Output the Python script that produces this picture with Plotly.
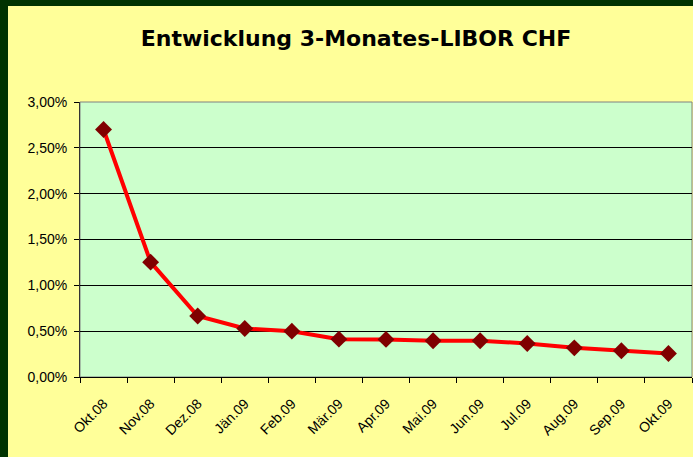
import plotly.graph_objects as go

months = ["Okt.08", "Nov.08", "Dez.08", "Jän.09", "Feb.09", "Mär.09", "Apr.09",
          "Mai.09", "Jun.09", "Jul.09", "Aug.09", "Sep.09", "Okt.09"]
libor = [0.0270, 0.01253, 0.00666, 0.00529, 0.00500, 0.00413, 0.00410,
         0.00395, 0.00395, 0.00366, 0.00318, 0.00286, 0.00257]
y_ticks = [0, 0.005, 0.01, 0.015, 0.02, 0.025, 0.03]

W, H = 693, 457
L, R, T, B = 80, 1, 102, 80
pw = W - L - R
ph = H - T - B

fig = go.Figure()
fig.add_trace(go.Scatter(
    x=months, y=libor, mode="lines+markers",
    line=dict(color="#FF0000", width=4),
    marker=dict(symbol="diamond", size=13, color="#800000"),
    showlegend=False,
))

fig.update_layout(
    width=W, height=H,
    margin=dict(l=L, r=R, t=T, b=B),
    paper_bgcolor="#FFFF99",
    plot_bgcolor="#CCFFCC",
    separators=",.",
    font=dict(family="Liberation Sans, Arial, sans-serif", size=14, color="#000000"),
    title=dict(text="<b>Entwicklung 3-Monates-LIBOR CHF</b>",
               font=dict(family="DejaVu Sans, sans-serif", size=22, color="#000000"),
               x=356 / W, xanchor="center", xref="container",
               y=1 - 38 / H, yanchor="middle", yref="container"),
    xaxis=dict(type="category", range=[-0.5, 12.5], showgrid=False,
               ticks="outside", ticklen=5, tickcolor="#000000",
               tickson="boundaries", tickangle=-45, ticklabelstandoff=12,
               showline=True, linecolor="#000000", linewidth=1,
               tickfont=dict(size=14)),
    yaxis=dict(range=[0, 0.03], tickvals=y_ticks, tickformat=".2%",
               showgrid=True, gridcolor="#000000", gridwidth=1,
               ticks="outside", ticklen=5, tickcolor="#000000",
               ticklabelstandoff=4,
               showline=True, linecolor="#333333", linewidth=1,
               zeroline=False, tickfont=dict(size=14)),
    shapes=[
        dict(type="rect", xref="paper", yref="paper", x0=0, x1=1, y0=0, y1=1,
             line=dict(color="#808080", width=1), layer="below"),
        dict(type="rect", xref="paper", yref="paper",
             x0=-L / pw, x1=(8 - L) / pw, y0=-B / ph, y1=(H - B) / ph + 0.01,
             fillcolor="#003300", line=dict(width=0), layer="above"),
        dict(type="rect", xref="paper", yref="paper",
             x0=-L / pw, x1=(W - L) / pw + 0.01, y0=(H - B - 6) / ph, y1=(H - B) / ph + 0.01,
             fillcolor="#003300", line=dict(width=0), layer="above"),
    ],
)

fig.write_html("out.html", config={"displayModeBar": False},
               post_script="document.body.style.margin='0';document.body.style.background='#FFFF99';")
